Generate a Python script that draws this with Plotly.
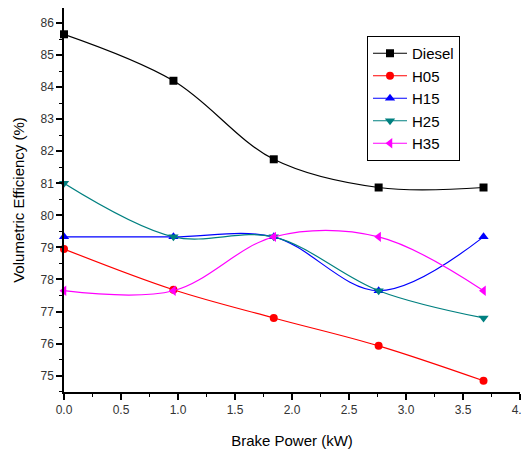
import plotly.graph_objects as go

power = [0.0, 0.96, 1.84, 2.76, 3.68]
diesel = [85.65, 84.2, 81.75, 80.87, 80.87]
h05 = [78.95, 77.68, 76.8, 75.93, 74.84]
h15 = [79.33, 79.33, 79.33, 77.65, 79.33]
h25 = [81.0, 79.33, 79.33, 77.65, 76.8]
h35 = [77.65, 77.65, 79.33, 79.33, 77.65]

series = [
    ("Diesel", diesel, "#000000", "square", 8),
    ("H05", h05, "#FF0000", "circle", 8),
    ("H15", h15, "#0000FF", "triangle-up", 9),
    ("H25", h25, "#008080", "triangle-down", 9),
    ("H35", h35, "#FF00FF", "triangle-left", 9),
]

fig = go.Figure()
for name, ys, col, sym, sz in series:
    fig.add_trace(go.Scatter(
        x=power, y=ys, name=name, mode="lines+markers",
        line=dict(color=col, width=1.2, shape="spline", smoothing=1.0),
        marker=dict(symbol=sym, size=sz, color=col),
        cliponaxis=False,
    ))

# page body has an 8px default margin; size the figure so it fits the window
OFF = 8
W, H = 521, 441
L, R, T, B = 56, 9, 0, 57
pw, ph = W - L - R, H - T - B

def px2paper(x, y):
    return (x - OFF - L) / pw, 1 - (y - OFF - T) / ph

lx, ly = px2paper(367, 36)
x0, y0 = px2paper(371, 37.5)
x1, y1 = px2paper(409, 58)

fig.update_layout(
    width=W, height=H,
    margin=dict(l=L, r=R, t=T, b=B, autoexpand=False),
    paper_bgcolor="white", plot_bgcolor="white",
    font=dict(family="Liberation Sans, Arial, sans-serif", color="#000000"),
    showlegend=True,
    legend=dict(
        x=lx, y=ly, xanchor="left", yanchor="top",
        bordercolor="#000000", borderwidth=1, bgcolor="white",
        font=dict(size=15), itemwidth=34, tracegroupgap=0,
    ),
    shapes=[dict(type="rect", xref="paper", yref="paper",
                 x0=x0, y0=y1, x1=x1, y1=y0,
                 line=dict(color="#FF0000", width=1))],
    xaxis=dict(
        range=[0, 4.0], dtick=0.5, tick0=0, tickformat=".1f",
        showgrid=False, zeroline=False, automargin=False,
        showline=True, linecolor="#000000", linewidth=1.5,
        ticks="outside", ticklen=6, tickcolor="#000000", tickwidth=1.5,
        minor=dict(dtick=0.25, ticks="outside", ticklen=3, tickcolor="#000000", tickwidth=1),
        tickfont=dict(size=12, color="#333333"),
        title=dict(text="Brake Power (kW)", font=dict(size=15), standoff=19),
    ),
    yaxis=dict(
        range=[74.49, 86.47], dtick=1, tick0=75,
        showgrid=False, zeroline=False, automargin=False,
        showline=True, linecolor="#000000", linewidth=1.5,
        ticks="outside", ticklen=6, tickcolor="#000000", tickwidth=1.5,
        minor=dict(dtick=0.5, ticks="outside", ticklen=3, tickcolor="#000000", tickwidth=1),
        tickfont=dict(size=12, color="#333333"),
        title=dict(text="Volumetric Efficiency (%)", font=dict(size=15), standoff=12),
    ),
)

fig.write_html("out.html")
